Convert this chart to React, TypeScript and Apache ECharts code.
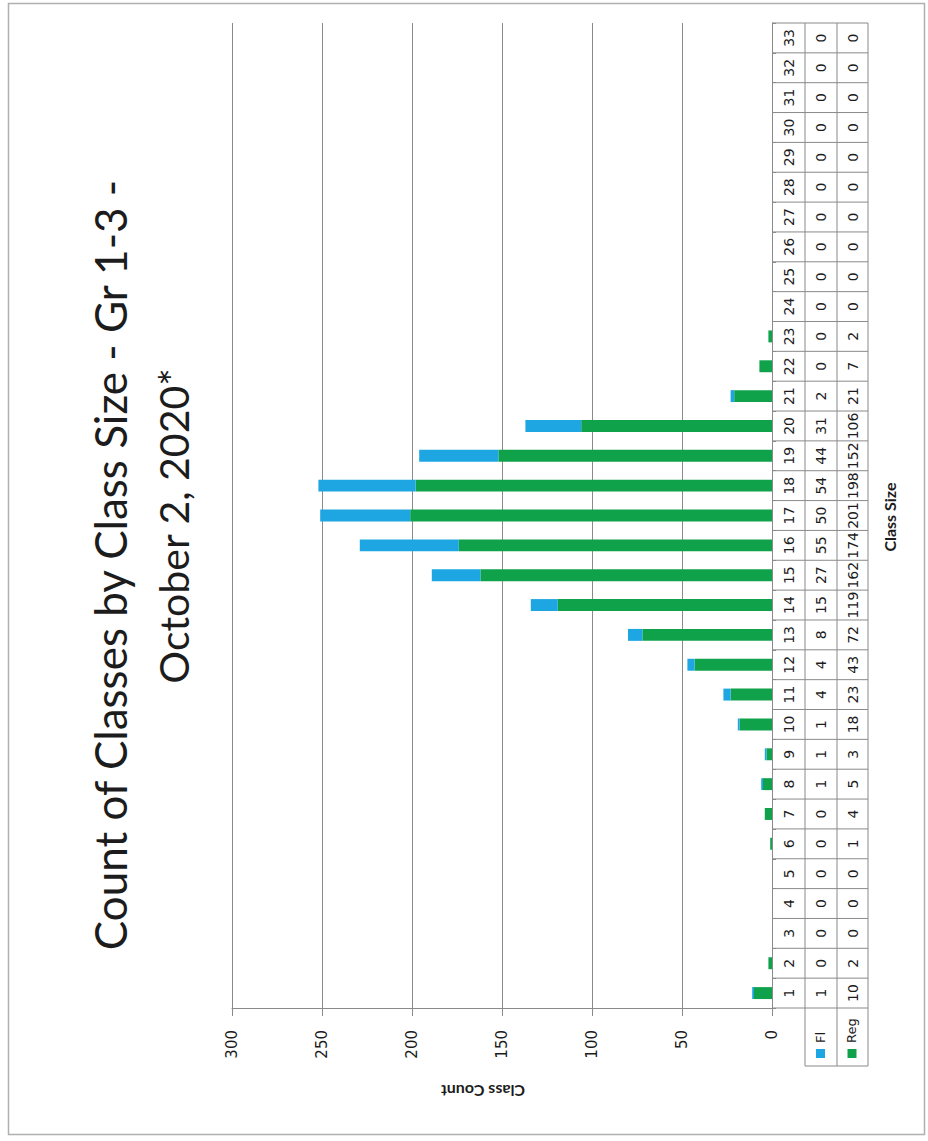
import React, { useEffect, useRef } from "react";
import * as echarts from "echarts";

const categories = ["1","2","3","4","5","6","7","8","9","10","11","12","13","14","15","16","17","18","19","20","21","22","23","24","25","26","27","28","29","30","31","32","33"];
const flValues = [1,0,0,0,0,0,0,1,1,1,4,4,8,15,27,55,50,54,44,31,2,0,0,0,0,0,0,0,0,0,0,0,0];
const regValues = [10,2,0,0,0,1,4,5,3,18,23,43,72,119,162,174,201,198,152,106,21,7,2,0,0,0,0,0,0,0,0,0,0];
const valueMin = 0;
const valueMax = 300;
const valueStep = 50;
const titleLines = ["Count of Classes by Class Size - Gr 1-3 -", "October 2, 2020*"];
const seriesNames = ["Fl", "Reg"];
const categoryAxisName = "Class Size";
const valueAxisName = "Class Count";

const GREEN = "#10a24b";
const BLUE = "#1ea6e2";
const GRID_COLOR = "#8a8a8a";
const TEXT = "#1c1c1c";

const W = 928;
const H = 1141;
const PLOT_LEFT = 232;
const PLOT_RIGHT = 772;
const PLOT_TOP = 23;
const PLOT_BOTTOM = 1008;
const COLS = [772, 805, 837, 868];
const HEADER_BOTTOM = 1066;

export default function App() {
  const ref = useRef<HTMLDivElement>(null);
  useEffect(() => {
    if (!ref.current) return;
    const chart = echarts.init(ref.current, null, { renderer: "svg" });
    chart.setOption({
      animation: false,
      backgroundColor: "#ffffff",
      grid: { left: PLOT_LEFT, right: W - PLOT_RIGHT, top: PLOT_TOP, bottom: H - PLOT_BOTTOM, containLabel: false },
      xAxis: {
        type: "value",
        inverse: true,
        min: valueMin,
        max: valueMax,
        interval: valueStep,
        position: "bottom",
        axisLine: { show: true, lineStyle: { color: GRID_COLOR, width: 1 } },
        axisTick: { show: true, length: 8, lineStyle: { color: GRID_COLOR } },
        splitLine: { show: true, lineStyle: { color: GRID_COLOR, width: 1 } },
        axisLabel: { rotate: 90, margin: 22, fontSize: 15, color: TEXT, fontFamily: "DejaVu Sans" },
      },
      yAxis: {
        type: "category",
        data: categories,
        position: "right",
        axisLine: { show: true, lineStyle: { color: GRID_COLOR, width: 1 } },
        axisTick: { show: true, length: 4, lineStyle: { color: GRID_COLOR } },
        axisLabel: { show: false },
        splitLine: { show: false },
      },
      series: [
        {
          name: seriesNames[1],
          type: "bar",
          stack: "total",
          barWidth: "40%",
          data: regValues,
          itemStyle: { color: GREEN },
        },
        {
          name: seriesNames[0],
          type: "bar",
          stack: "total",
          barWidth: "40%",
          data: flValues,
          itemStyle: { color: BLUE },
        },
      ],
    });

    const rowH = (PLOT_BOTTOM - PLOT_TOP) / categories.length;
    const g: any[] = [];
    const lineStyle = { stroke: GRID_COLOR, lineWidth: 1 };
    // outer border
    g.push({ type: "rect", shape: { x: 8.5, y: 3.5, width: 916, height: 1131 }, style: { fill: "none", stroke: "#b0b0b0", lineWidth: 1.5 }, silent: true });
    // title
    g.push({ type: "text", x: 110, y: 565, rotation: Math.PI / 2, style: { text: titleLines[0], font: "44px Lato", fill: TEXT, align: "center", verticalAlign: "middle" } });
    g.push({ type: "text", x: 173, y: 526, rotation: Math.PI / 2, style: { text: titleLines[1], font: "41px Lato", fill: TEXT, align: "center", verticalAlign: "middle" } });
    // axis names
    g.push({ type: "text", x: 889, y: 517, rotation: Math.PI / 2, style: { text: categoryAxisName, font: "bold 16px Lato", fill: TEXT, align: "center", verticalAlign: "middle" } });
    g.push({ type: "text", x: 483, y: 1091, rotation: Math.PI, style: { text: valueAxisName, font: "bold 16px Lato", fill: TEXT, align: "center", verticalAlign: "middle" } });

    // table verticals
    g.push({ type: "line", shape: { x1: COLS[1], y1: PLOT_TOP, x2: COLS[1], y2: HEADER_BOTTOM }, style: lineStyle });
    g.push({ type: "line", shape: { x1: COLS[2], y1: PLOT_TOP, x2: COLS[2], y2: HEADER_BOTTOM }, style: lineStyle });
    g.push({ type: "line", shape: { x1: COLS[3], y1: PLOT_TOP, x2: COLS[3], y2: HEADER_BOTTOM }, style: lineStyle });
    g.push({ type: "line", shape: { x1: COLS[1], y1: HEADER_BOTTOM, x2: COLS[3], y2: HEADER_BOTTOM }, style: lineStyle });
    g.push({ type: "line", shape: { x1: COLS[0], y1: PLOT_TOP, x2: COLS[3], y2: PLOT_TOP }, style: lineStyle });

    categories.forEach((c, i) => {
      const cy = chart.convertToPixel({ yAxisIndex: 0 }, c) as number;
      const yb = cy + rowH / 2;
      g.push({ type: "line", shape: { x1: COLS[0], y1: yb, x2: COLS[3], y2: yb }, style: lineStyle });
      const cells = [c, String(flValues[i]), String(regValues[i])];
      cells.forEach((t, k) => {
        g.push({
          type: "text",
          x: (COLS[k] + COLS[k + 1]) / 2,
          y: cy,
          rotation: Math.PI / 2,
          style: { text: t, font: "14px DejaVu Sans", fill: TEXT, align: "center", verticalAlign: "middle" },
        });
      });
    });

    // header cells (legend keys)
    const headerColors = [BLUE, GREEN];
    seriesNames.forEach((n, k) => {
      const cx = (COLS[k + 1] + COLS[k + 2]) / 2;
      g.push({ type: "rect", shape: { x: cx - 5, y: 1049, width: 9, height: 9 }, style: { fill: headerColors[k] } });
      g.push({ type: "text", x: cx - 1, y: 1043, rotation: Math.PI / 2, style: { text: n, font: "13px DejaVu Sans", fill: TEXT, align: "left", verticalAlign: "middle" } });
    });

    chart.setOption({ graphic: g });
    return () => chart.dispose();
  }, []);
  return <div ref={ref} style={{ position: "absolute", left: 0, top: 0, width: W, height: H }} />;
}
